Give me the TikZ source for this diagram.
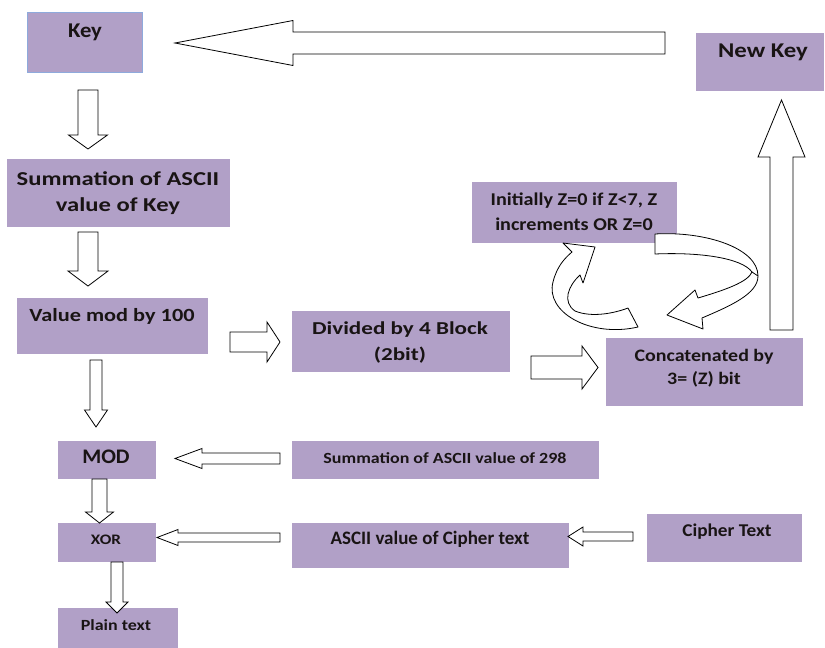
\documentclass[tikz,border=0pt]{standalone}
\usepackage{fontspec}
\usepackage{graphicx}
\setmainfont{Carlito}
\usetikzlibrary{calc}
\definecolor{boxfill}{RGB}{177,160,199}
\definecolor{keyedge}{RGB}{142,170,220}
\definecolor{txt}{RGB}{25,20,20}
\tikzset{
  box/.style={fill=boxfill, draw=none},
  lbl/.style={text=txt, font=\bfseries, inner sep=0pt, align=center},
  barr/.style={draw=black, fill=white, line width=0.8pt, line join=miter},
}
\newcommand\fs[2]{\fontsize{#1}{#2}\selectfont}
\newcommand\sx[2]{\scalebox{#1}[1]{#2}}
% \barrow{tail}{tip}{shaft half width}{head half width}{head length}
\newcommand\barrow[5]{%
  \path ($#2!#5!#1$) coordinate (hb);
  \draw[barr] ($#1!#3!90:#2$) -- ($(hb)!#3!90:#2$) -- ($(hb)!#4!90:#2$) -- #2
     -- ($(hb)!#4!-90:#2$) -- ($(hb)!#3!-90:#2$) -- ($#1!#3!-90:#2$) -- cycle;}
\begin{document}
\begin{tikzpicture}[x=1pt,y=-1pt]
\useasboundingbox (0,0) rectangle (825,648);
% boxes
\path[box,draw=keyedge,line width=0.8pt] (27,12) rectangle (142,72);
\node[lbl,font=\bfseries\fs{21}{25}] (key) at (85,32) {\sx{1.08}{Key}};
\path[box] (696,33) rectangle (824,91);
\node[lbl,font=\bfseries\fs{21}{25}] (newkey) at (763,52) {\sx{1.18}{New Key}};
\path[box] (7,159) rectangle (230,227);
\node[lbl,font=\bfseries\fs{19.7}{26}] (sum) at (118,193) {\sx{1.25}{Summation of ASCII}\\\sx{1.25}{value of Key}};
\path[box] (17,298) rectangle (208,354);
\node[lbl,font=\bfseries\fs{18.6}{23}] (val) at (112,316) {\sx{1.2}{Value mod by 100}};
\path[box] (292,311) rectangle (510,372);
\node[lbl,font=\bfseries\fs{18.2}{26}] (div) at (400,342) {\sx{1.27}{Divided by 4 Block}\\\sx{1.27}{(2bit)}};
\path[box] (472,182) rectangle (677,243);
\node[lbl,font=\bfseries\fs{18}{25}] (init) at (574,211.5) {\sx{1.12}{Initially Z=0 if Z<7, Z}\\\sx{1.12}{increments OR Z=0}};
\path[box] (606,338) rectangle (803,406);
\node[lbl,font=\bfseries\fs{17.5}{23}] (concat) at (704,368.5) {\sx{1.14}{Concatenated by}\\\sx{1.14}{3= (Z) bit}};
\path[box] (58,441) rectangle (156,479);
\node[lbl,font=\bfseries\fs{20.7}{24}] (mod) at (106,457) {\sx{1.05}{MOD}};
\path[box] (292,441) rectangle (599,479);
\node[lbl,font=\bfseries\fs{15.5}{18}] (sum298) at (445,458) {\sx{1.16}{Summation of ASCII value of 298}};
\path[box] (58,523) rectangle (156,562);
\node[lbl,font=\bfseries\fs{14.5}{17}] (xor) at (106,540) {\sx{1.18}{XOR}};
\path[box] (292,523) rectangle (569,568);
\node[lbl,font=\bfseries\fs{19}{22}] (asc) at (430,539) {ASCII value of Cipher text};
\path[box] (647,514) rectangle (802,562);
\node[lbl,font=\bfseries\fs{18}{21}] (cipher) at (727,532) {\sx{1.07}{Cipher Text}};
\path[box] (58,608) rectangle (178,648);
\node[lbl,font=\bfseries\fs{15.5}{18}] (plain) at (116,625) {\sx{1.16}{Plain text}};
% straight block arrows
\barrow{(665,43)}{(175,43)}{11pt}{22.5pt}{118pt}
\barrow{(88,90)}{(88,149)}{10pt}{19.5pt}{14pt}
\barrow{(88,232)}{(88,286)}{10pt}{20pt}{15pt}
\barrow{(230,342)}{(280,342)}{10pt}{20pt}{13pt}
\barrow{(96,360)}{(96,427)}{6pt}{11.5pt}{17pt}
\barrow{(280,458.5)}{(175,458.5)}{5.5pt}{10pt}{27pt}
\barrow{(99.5,479)}{(99.5,523)}{7.5pt}{14pt}{11pt}
\barrow{(280,537.5)}{(157,537.5)}{4.5pt}{8pt}{21pt}
\barrow{(633,536.5)}{(568,536.5)}{4.5pt}{9.5pt}{15pt}
\barrow{(117,562)}{(117,613)}{6pt}{11pt}{11pt}
\barrow{(531,367.5)}{(598,367.5)}{11.5pt}{21.5pt}{16pt}
\barrow{(781.5,330)}{(781.5,100)}{11.5pt}{23.5pt}{57pt}
% curved arrows
\draw[barr,line join=round] (655,234) .. controls (705,231) and (758,248) .. (758,276)
  .. controls (758,294) and (730,306) .. (702,318) -- (703,329) -- (667,315) -- (695,290)
  -- (698,298) .. controls (725,290) and (748,282) .. (752,272)
  .. controls (742,258) and (700,252) .. (655,254) -- cycle;
\draw[line width=0.8pt] (752,272) -- (758,276);
\draw[barr,line join=round] (638,327) .. controls (590,338) and (545,312) .. (553,282)
  .. controls (557,266) and (565,258) .. (572,252) -- (563,243) -- (595,247) -- (583,283)
  -- (580,275) .. controls (568,286) and (562,302) .. (575,311)
  .. controls (592,318) and (615,313) .. (628,308) -- cycle;
\end{tikzpicture}
\end{document}
